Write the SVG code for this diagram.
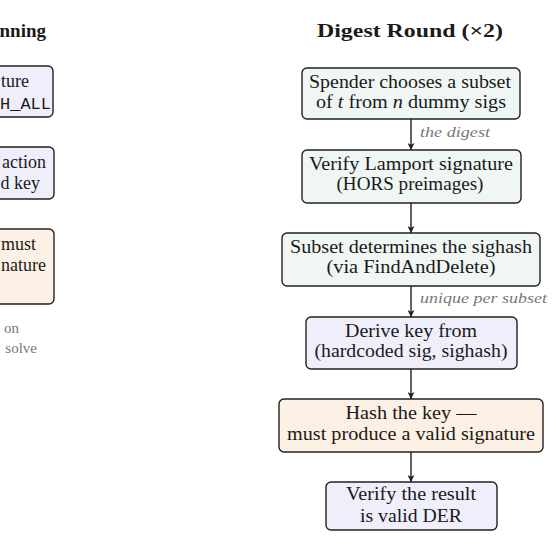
<svg xmlns="http://www.w3.org/2000/svg" width="560" height="552" viewBox="0 0 560 552">
<style>
.box{stroke:#222;stroke-width:1.4}
.g{fill:#eff6f3}
.b{fill:#efeffc}
.o{fill:#fdf0e4}
text{font-family:"Liberation Serif","Times New Roman",serif;font-size:18px;fill:#1a1a1a}
.c{text-anchor:middle}
.e{text-anchor:end}
.t{font-weight:bold;font-size:19px}
.lbl{font-style:italic;fill:#777;font-size:15px}
.note{fill:#777;font-size:15px}
.mono{font-family:"Liberation Mono","Courier New",monospace;font-size:17px}
.ln{stroke:#222;stroke-width:1.4;fill:none}
</style>
<defs>
<marker id="ah" viewBox="0 0 10 10" refX="10" refY="5" markerWidth="7" markerHeight="7" markerUnits="userSpaceOnUse" orient="auto">
<path d="M0,0 L10,5 L0,10 L2.5,5 Z" fill="#222"/>
</marker>
</defs>
<rect width="560" height="552" fill="#fff"/>
<g id="left-column">
<text class="t e" x="46" y="37">nning</text>
<g id="left-node-1">
<rect class="box b" x="-150" y="66" width="203" height="51" rx="5"/>
<text class="e" x="29" y="87">ture</text>
<text class="e mono" x="51" y="109">H_ALL</text>
</g>
<g id="left-node-2">
<rect class="box b" x="-150" y="147" width="204" height="52" rx="5"/>
<text class="e" x="46" y="168">action</text>
<text class="e" x="40" y="189">d key</text>
</g>
<g id="left-node-3">
<rect class="box o" x="-150" y="229" width="204" height="75" rx="5"/>
<text class="e" x="36" y="250">must</text>
<text class="e" x="46" y="271">nature</text>
</g>
<text class="note e" x="19" y="333">on</text>
<text class="note e" x="37" y="353">solve</text>
</g>
<text class="t c" x="410" y="37" textLength="186" lengthAdjust="spacingAndGlyphs">Digest Round (×2)</text>
<g id="connectors">
<line class="ln" x1="411" y1="119" x2="411" y2="150" marker-end="url(#ah)"/>
<line class="ln" x1="411" y1="203" x2="411" y2="233" marker-end="url(#ah)"/>
<line class="ln" x1="411" y1="286" x2="411" y2="317" marker-end="url(#ah)"/>
<line class="ln" x1="411" y1="369" x2="411" y2="399" marker-end="url(#ah)"/>
<line class="ln" x1="411" y1="452" x2="411" y2="482" marker-end="url(#ah)"/>
<text class="lbl" x="420" y="137" textLength="70" lengthAdjust="spacingAndGlyphs">the digest</text>
<text class="lbl" x="420" y="303" textLength="127" lengthAdjust="spacingAndGlyphs">unique per subset</text>
</g>
<g id="node-spender">
<rect class="box g" x="302" y="68" width="218" height="51" rx="5"/>
<text class="c" x="410" y="88" textLength="202" lengthAdjust="spacingAndGlyphs">Spender chooses a subset</text>
<text class="c" x="411" y="108" textLength="190" lengthAdjust="spacingAndGlyphs">of <tspan font-style="italic">t</tspan> from <tspan font-style="italic">n</tspan> dummy sigs</text>
</g>
<g id="node-verify-lamport">
<rect class="box g" x="302" y="150" width="219" height="53" rx="5"/>
<text class="c" x="411" y="170" textLength="204" lengthAdjust="spacingAndGlyphs">Verify Lamport signature</text>
<text class="c" x="410" y="190" textLength="147" lengthAdjust="spacingAndGlyphs">(HORS preimages)</text>
</g>
<g id="node-subset">
<rect class="box g" x="282" y="233" width="258" height="53" rx="5"/>
<text class="c" x="411" y="253" textLength="242" lengthAdjust="spacingAndGlyphs">Subset determines the sighash</text>
<text class="c" x="411" y="273" textLength="169" lengthAdjust="spacingAndGlyphs">(via FindAndDelete)</text>
</g>
<g id="node-derive">
<rect class="box b" x="306" y="317" width="211" height="52" rx="5"/>
<text class="c" x="411" y="337" textLength="132" lengthAdjust="spacingAndGlyphs">Derive key from</text>
<text class="c" x="411" y="357" textLength="193" lengthAdjust="spacingAndGlyphs">(hardcoded sig, sighash)</text>
</g>
<g id="node-hash">
<rect class="box o" x="279" y="399" width="264" height="53" rx="5"/>
<text class="c" x="411" y="419" textLength="131" lengthAdjust="spacingAndGlyphs">Hash the key —</text>
<text class="c" x="411" y="440" textLength="248" lengthAdjust="spacingAndGlyphs">must produce a valid signature</text>
</g>
<g id="node-der">
<rect class="box b" x="326" y="482" width="171" height="48" rx="5"/>
<text class="c" x="411" y="500" textLength="130" lengthAdjust="spacingAndGlyphs">Verify the result</text>
<text class="c" x="411" y="522" textLength="102" lengthAdjust="spacingAndGlyphs">is valid DER</text>
</g>
</svg>
